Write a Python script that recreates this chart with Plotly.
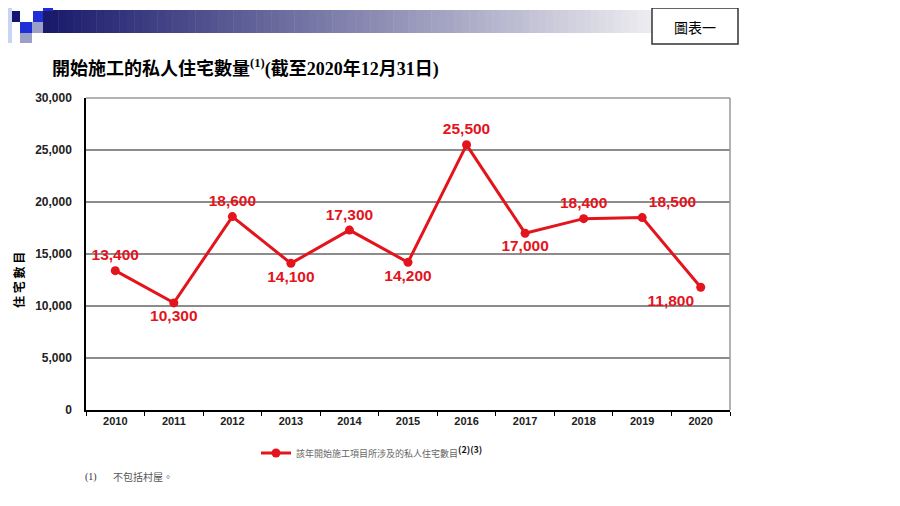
import plotly.graph_objects as go

# 數據 (截至2020年12月31日)
years = ["2010", "2011", "2012", "2013", "2014", "2015", "2016", "2017", "2018", "2019", "2020"]
units = [13400, 10300, 18600, 14100, 17300, 14200, 25500, 17000, 18400, 18500, 11800]
label_pos = ["top center", "bottom center", "top center", "bottom center", "top center",
             "bottom center", "top center", "bottom center", "top center", "top right", "bottom left"]

RED = "#e3141c"
OFF = 8  # 頁面邊距
W, H = 900 - OFF, 506 - OFF
L, R, T, B = 86, 730, 98, 410  # 畫面上的繪圖區


def px(x):
    return (x - L) / (R - L)


def py(y):
    return (B - y) / (B - T)


fig = go.Figure()

fig.add_trace(go.Scatter(
    x=years, y=units,
    mode="lines+markers+text",
    line=dict(color=RED, width=3),
    marker=dict(color=RED, size=9),
    text=[f"{v:,}" for v in units],
    textposition=label_pos,
    textfont=dict(family="Arial, Liberation Sans", size=15.5, color=RED, weight="bold"),
    name="該年開始施工項目所涉及的私人住宅數目"
         "<sup><b><span style='color:#111111;font-size:9px'>(2)(3)</span></b></sup>",
    showlegend=True,
))

shapes = []
# 頁首漸變橫條
n = 80
x0, x1 = 43, 652
c0, c1 = (26, 26, 108), (236, 236, 240)
for i in range(n):
    t = i / (n - 1)
    col = tuple(int(c0[k] + (c1[k] - c0[k]) * t) for k in range(3))
    xa = x0 + (x1 - x0) * i / n
    xb = x0 + (x1 - x0) * (i + 1) / n + 0.5
    shapes.append(dict(type="rect", xref="paper", yref="paper",
                       x0=px(xa), x1=px(xb), y0=py(33), y1=py(10),
                       fillcolor=f"rgb{col}", line=dict(width=0), layer="below"))

# 左上角方格
squares = [
    (8, 12, 8, 43, "#c8d4f4"),
    (43, 53, 8, 11, "#1f2fd8"),
    (12, 20, 11, 22, "#14146e"),
    (33, 43, 11, 22, "#1f2fd8"),
    (20, 32, 22, 33, "#1f2fd8"),
    (32, 43, 22, 33, "#9aa0c8"),
    (20, 32, 33, 43, "#9aa0c8"),
]
for xa, xb, ya, yb, col in squares:
    shapes.append(dict(type="rect", xref="paper", yref="paper",
                       x0=px(xa), x1=px(xb), y0=py(yb), y1=py(ya),
                       fillcolor=col, line=dict(width=0), layer="below"))

# 圖表一 方框
shapes.append(dict(type="rect", xref="paper", yref="paper",
                   x0=px(652), x1=px(738), y0=py(44), y1=py(8),
                   fillcolor="white", line=dict(color="#333333", width=1.5)))

# 右邊及頂部邊框
shapes.append(dict(type="line", xref="paper", yref="paper",
                   x0=1, x1=1, y0=0, y1=1, line=dict(color="#999999", width=1.5)))
shapes.append(dict(type="line", xref="paper", yref="paper",
                   x0=0, x1=1, y0=1, y1=1, line=dict(color="#999999", width=1.5)))

annotations = [
    dict(text="圖表一", xref="paper", yref="paper", x=px(695), y=py(27),
         xanchor="center", yanchor="middle", showarrow=False,
         font=dict(size=14, color="black", family="Noto Sans CJK TC")),
    dict(text="<b>開始施工的私人住宅數量<sup>(1)</sup>(截至2020年12月31日)</b>",
         xref="paper", yref="paper", x=px(50), y=py(68), xanchor="left", yanchor="middle",
         showarrow=False, font=dict(size=18, color="black",
                                    family="Liberation Serif, Noto Sans CJK TC")),
    dict(text="<b>住 宅 數 目</b>", xref="paper", yref="paper", x=px(18), y=py(280),
         xanchor="center", yanchor="middle", textangle=-90, showarrow=False,
         font=dict(size=12, color="black", family="Noto Sans CJK TC")),
    dict(text="(1)", xref="paper", yref="paper", x=px(83), y=py(477),
         xanchor="left", yanchor="middle", showarrow=False,
         font=dict(size=10, color="#333333", family="Liberation Serif")),
    dict(text="不包括村屋。", xref="paper", yref="paper", x=px(111), y=py(477),
         xanchor="left", yanchor="middle", showarrow=False,
         font=dict(size=10, color="#555555", family="Noto Sans CJK TC")),
]

fig.update_layout(
    width=W, height=H,
    margin=dict(l=L - OFF, r=W - (R - OFF), t=T - OFF, b=H - (B - OFF)),
    paper_bgcolor="white", plot_bgcolor="white",
    shapes=shapes,
    annotations=annotations,
    showlegend=True,
    legend=dict(x=px(256), y=py(453), xanchor="left", yanchor="middle",
                orientation="h", itemwidth=30,
                font=dict(size=9, color="#666666", family="Noto Sans CJK TC"),
                bgcolor="rgba(0,0,0,0)"),
    xaxis=dict(
        type="category",
        range=[-0.5, 10.5],
        showline=True, linecolor="black", linewidth=1.5,
        ticks="outside", tickson="boundaries", ticklen=4, tickcolor="black",
        showgrid=False,
        tickfont=dict(family="Arial, Liberation Sans", size=11, color="#222222", weight="bold"),
    ),
    yaxis=dict(
        range=[0, 30000],
        dtick=5000,
        tickformat=",",
        showline=True, linecolor="black", linewidth=1.5,
        showgrid=True, gridcolor="#8c8c8c", gridwidth=1.5,
        zeroline=False,
        ticks="", ticklabelstandoff=10,
        tickfont=dict(family="Arial, Liberation Sans", size=12, color="#222222", weight="bold"),
    ),
)

fig.write_html("out.html")
